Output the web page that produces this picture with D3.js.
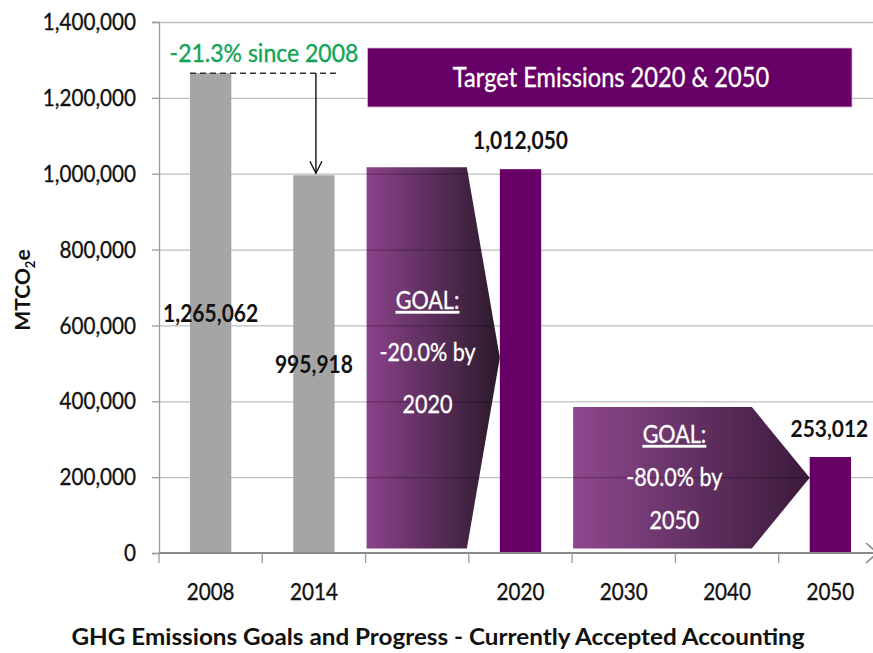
<!DOCTYPE html>
<html><head><meta charset="utf-8">
<script src="https://cdn.jsdelivr.net/npm/d3@7"></script>
<style>body{margin:0;background:#fff}svg{display:block}</style>
</head><body>
<svg id="chart" width="873" height="653"></svg>
<script>
// ---- data ----
const categories = ["2008", "2014", "", "2020", "2030", "2040", "2050"];
const barCategories = ["2008", "2014", "2020", "2050"];
const barValues = [1265062, 995918, 1012050, 253012];
const barKinds = ["actual", "actual", "target", "target"];
const barLabels = ["1,265,062", "995,918", "1,012,050", "253,012"];
const yTicks = [0, 200000, 400000, 600000, 800000, 1000000, 1200000, 1400000];
const goalLines = [["GOAL:", "-20.0% by", "2020"], ["GOAL:", "-80.0% by", "2050"]];
const goalTops = [1017000, 385000];
const goalBottoms = [12000, 12000];
const goalStartCats = [2, 4];
const goalTargetCats = ["2020", "2050"];
const changeText = "-21.3% since 2008";
const targetBoxText = "Target Emissions 2020 & 2050";
const titleText = "GHG Emissions Goals and Progress - Currently Accepted Accounting";

(function () {
const FONT = "Lato, 'Open Sans', sans-serif";
const SX = 0.86; // horizontal condensing to mimic the narrow original lettering
const svg = d3.select("#chart");
const pL = 159, pR = 882, pT = 22, pB = 553;

function condense(sel, f) {
  sel.each(function () {
    const len = this.getComputedTextLength();
    d3.select(this).attr("textLength", len * (f || SX)).attr("lengthAdjust", "spacingAndGlyphs");
  });
  return sel;
}
function heavy(sel, c) {
  return sel.attr("stroke", c).attr("stroke-width", 0.35);
}

const x = d3.scaleBand().domain(d3.range(categories.length)).range([pL, pR]).paddingInner(0).paddingOuter(0);
const y = d3.scaleLinear().domain([0, 1400000]).range([pB, pT]);
const catIndex = c => categories.indexOf(c);
const barW = x.bandwidth() * 0.4;
const barX = c => x(catIndex(c)) + (x.bandwidth() - barW) / 2;

// defs: gradients
const defs = svg.append("defs");
const gradStops = [["#8b428b", "#2a1a2a"], ["#8e488e", "#3a1a3a"]];
gradStops.forEach((s, i) => {
  const g = defs.append("linearGradient").attr("id", "goalGrad" + i).attr("x1", "0").attr("x2", "1").attr("y1", "0").attr("y2", "0");
  g.append("stop").attr("offset", "0").attr("stop-color", s[0]);
  g.append("stop").attr("offset", "1").attr("stop-color", s[1]);
});

// goal arrows
goalLines.forEach((lines, i) => {
  const x0 = x(goalStartCats[i]) + 1;
  const tipX = barX(goalTargetCats[i]);
  const baseX = i === 0 ? x(goalStartCats[i]) + x.bandwidth() - 2 : x(goalStartCats[i] + 1) + x.bandwidth() * 0.74;
  const yt = y(goalTops[i]), yb = y(goalBottoms[i]);
  const ym = (yt + yb) / 2;
  svg.append("path")
    .attr("d", `M${x0},${yt}L${baseX},${yt}L${tipX},${ym}L${baseX},${yb}L${x0},${yb}Z`)
    .attr("fill", `url(#goalGrad${i})`);
});

// gridlines (drawn over arrows, under bars)
svg.append("g").selectAll("line").data(yTicks.filter(d => d > 0)).join("line")
  .attr("x1", pL).attr("x2", pR).attr("y1", d => y(d) + 0.5).attr("y2", d => y(d) + 0.5)
  .attr("stroke", "rgba(0,0,0,0.26)").attr("stroke-width", 1.3);

// goal text
goalLines.forEach((lines, i) => {
  const x0 = x(goalStartCats[i]);
  const cx = i === 0 ? x0 + x.bandwidth() * 0.6 : x0 + x.bandwidth() * 0.99;
  const baseY = i === 0 ? 309 : 443;
  const gap = i === 0 ? 52 : 43;
  lines.forEach((t, j) => {
    const tx = svg.append("text").attr("x", cx).attr("y", baseY + j * gap)
      .attr("text-anchor", "middle").attr("fill", "#fff")
      .attr("font-family", FONT).attr("font-size", 25).text(t);
    if (j === 0) tx.attr("text-decoration", "underline");
    heavy(condense(tx), "#fff");
  });
});

// y axis
const yAxis = svg.append("g").attr("transform", `translate(${pL},0)`)
  .call(d3.axisLeft(y).tickValues(yTicks).tickSize(7).tickPadding(16).tickFormat(d3.format(",")));
yAxis.select(".domain").attr("stroke", "#9a9a9a").attr("stroke-width", 1.3);
yAxis.selectAll(".tick line").attr("stroke", "#9a9a9a").attr("stroke-width", 1.3);
heavy(condense(yAxis.selectAll(".tick text").attr("font-family", FONT).attr("font-size", 24).attr("fill", "#111")), "#111");

// bars
svg.append("g").selectAll("rect").data(barValues).join("rect")
  .attr("x", (d, i) => barX(barCategories[i]))
  .attr("y", d => y(d)).attr("width", barW).attr("height", d => pB - y(d))
  .attr("fill", (d, i) => barKinds[i] === "actual" ? "#a5a5a5" : "#660066");

// x axis
const xAxis = svg.append("g").attr("transform", `translate(0,${pB})`);
xAxis.append("line").attr("x1", pL).attr("x2", pR).attr("y1", 0).attr("y2", 0)
  .attr("stroke", "#8a8a8a").attr("stroke-width", 2.2);
xAxis.selectAll("line.tk").data(d3.range(categories.length + 1)).join("line").attr("class", "tk")
  .attr("x1", d => pL + d * x.bandwidth()).attr("x2", d => pL + d * x.bandwidth())
  .attr("y1", 0).attr("y2", 10).attr("stroke", "#9a9a9a").attr("stroke-width", 1.3);
// axis break chevron at the clipped right end
xAxis.append("path").attr("d", "M866,-10L874,-3M866,10L874,3")
  .attr("fill", "none").attr("stroke", "#8a8a8a").attr("stroke-width", 1.6);
heavy(condense(xAxis.selectAll("text").data(categories.filter(d => d)).join("text")
  .attr("x", d => x(catIndex(d)) + x.bandwidth() / 2).attr("y", 47)
  .attr("text-anchor", "middle").attr("font-family", FONT).attr("font-size", 24).attr("fill", "#111")
  .text(d => d)), "#111");

// data labels
barValues.forEach((v, i) => {
  const cx = barX(barCategories[i]) + barW / 2;
  const inside = barKinds[i] === "actual";
  const last = i === barValues.length - 1;
  condense(svg.append("text").attr("x", last ? cx - 1 : cx)
    .attr("y", inside ? y(v / 2) + 9 : y(v) - 20)
    .attr("text-anchor", "middle").attr("font-family", FONT).attr("font-weight", "bold")
    .attr("font-size", last ? 23.5 : 25).attr("fill", "#111").text(barLabels[i]), last ? 0.89 : 0.84);
});

// change annotation
const v0 = barValues[0], v1 = barValues[1];
svg.append("line").attr("x1", barX("2008")).attr("x2", 340).attr("y1", y(v0)).attr("y2", y(v0))
  .attr("stroke", "#333").attr("stroke-width", 1.5).attr("stroke-dasharray", "6,4");
const ax = barX("2014") + barW / 2 + 2;
svg.append("line").attr("x1", ax).attr("x2", ax).attr("y1", y(v0)).attr("y2", y(v1) - 2)
  .attr("stroke", "#111").attr("stroke-width", 1.4);
svg.append("path").attr("d", `M${ax - 6},${y(v1) - 14}L${ax},${y(v1) - 2}L${ax + 6},${y(v1) - 14}`)
  .attr("fill", "none").attr("stroke", "#111").attr("stroke-width", 1.4);
heavy(condense(svg.append("text").attr("x", 264).attr("y", 62).attr("text-anchor", "middle")
  .attr("font-family", FONT).attr("font-size", 25).attr("fill", "#12a454").text(changeText), 0.92), "#12a454");

// target box
const bx0 = x(2) + 2, bx1 = 852;
svg.append("rect").attr("x", bx0).attr("y", 48).attr("width", bx1 - bx0).attr("height", 59)
  .attr("fill", "#660066").attr("stroke", "#d9b3d9").attr("stroke-width", 0.8);
heavy(condense(svg.append("text").attr("x", 611).attr("y", 87).attr("text-anchor", "middle")
  .attr("font-family", FONT).attr("font-size", 27).attr("fill", "#fff").text(targetBoxText), 0.875), "#fff");

// y title
const ytl = svg.append("text").attr("transform", "translate(30,290) rotate(-90)")
  .attr("text-anchor", "middle").attr("font-family", FONT).attr("font-weight", "bold")
  .attr("font-size", 21).attr("fill", "#111");
ytl.append("tspan").text("MTCO");
ytl.append("tspan").attr("font-size", 13).attr("dy", 5).text("2");
ytl.append("tspan").attr("dy", -5).text("e");

// chart title
svg.append("text").attr("x", 438).attr("y", 645).attr("text-anchor", "middle")
  .attr("font-family", FONT).attr("font-weight", "bold").attr("font-size", 23).attr("fill", "#111")
  .attr("textLength", 733).attr("lengthAdjust", "spacingAndGlyphs")
  .text(titleText);
})();
</script>
</body></html>
